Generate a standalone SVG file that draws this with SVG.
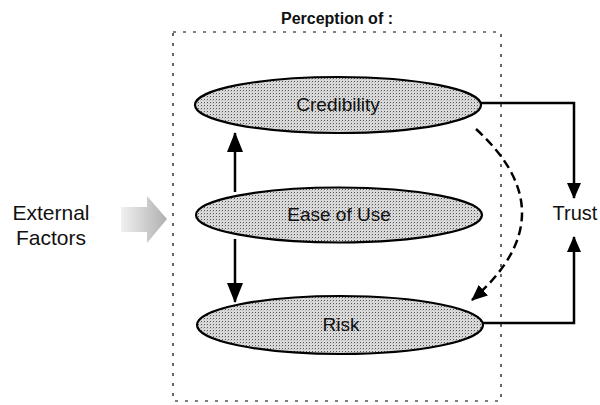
<svg xmlns="http://www.w3.org/2000/svg" width="600" height="405" viewBox="0 0 600 405">
  <style>
    .lbl { font-family: "Liberation Sans", Arial, sans-serif; fill: #111; }
    .node ellipse { fill: url(#stipple); stroke: #000; stroke-width: 2.2; }
    .node text { font-size: 19px; text-anchor: middle; }
    .conn { fill: none; stroke: #000; stroke-width: 2.5; }
  </style>
  <defs>
    <pattern id="stipple" width="3" height="3" patternUnits="userSpaceOnUse">
      <rect width="3" height="3" fill="#dadada"/>
      <rect x="0" y="0" width="1" height="1" fill="#555"/>
      <rect x="2" y="1" width="1" height="1" fill="#bbb"/>
    </pattern>
    <linearGradient id="grayArrow" x1="0" y1="0" x2="1" y2="0">
      <stop offset="0" stop-color="#f0f0f0"/>
      <stop offset="1" stop-color="#b0b0b0"/>
    </linearGradient>
    <marker id="head" markerUnits="userSpaceOnUse" markerWidth="16" markerHeight="16" viewBox="0 0 16 16" refX="15" refY="8" orient="auto">
      <path d="M0,1 L16,8 L0,15 Z" fill="#000"/>
    </marker>
    <marker id="bighead" markerUnits="userSpaceOnUse" markerWidth="20" markerHeight="16" viewBox="0 0 20 16" refX="19" refY="8" orient="auto">
      <path d="M0,0 L20,8 L0,16 Z" fill="#000"/>
    </marker>
  </defs>

  <rect x="0" y="0" width="600" height="405" fill="#fff"/>

  <!-- Perception box -->
  <g id="perception-box">
    <rect x="173" y="32" width="328" height="369" fill="none" stroke="#000" stroke-width="1.2" stroke-dasharray="3 7"/>
    <text class="lbl" x="337" y="24" font-size="16" font-weight="bold" text-anchor="middle">Perception of :</text>
  </g>

  <g id="connectors">
    <line class="conn" x1="235" y1="192" x2="235" y2="133" stroke-width="3" marker-end="url(#bighead)"/>
    <line class="conn" x1="235" y1="239" x2="235" y2="302" stroke-width="3" marker-end="url(#bighead)"/>
    <polyline class="conn" points="480,103 574,103 574,198" marker-end="url(#head)"/>
    <polyline class="conn" points="483,323 574,323 574,237" marker-end="url(#head)"/>
    <path class="conn" d="M476,129 Q570,215 472,300" stroke-width="3" stroke-dasharray="9 5" marker-end="url(#head)"/>
  </g>

  <g id="credibility" class="node">
    <ellipse cx="338" cy="105" rx="143" ry="28"/>
    <text class="lbl" x="338" y="111">Credibility</text>
  </g>

  <g id="ease-of-use" class="node">
    <ellipse cx="339" cy="215" rx="143" ry="27.5"/>
    <text class="lbl" x="339" y="221">Ease of Use</text>
  </g>

  <g id="risk" class="node">
    <ellipse cx="340" cy="325" rx="143" ry="29"/>
    <text class="lbl" x="341" y="331">Risk</text>
  </g>

  <g id="external-factors">
    <text class="lbl" x="51" y="220" font-size="21" text-anchor="middle">External</text>
    <text class="lbl" x="51" y="245" font-size="21" text-anchor="middle">Factors</text>
    <path d="M121,207 L147,207 L147,196 L167,219 L147,243 L147,232 L121,232 Z" fill="url(#grayArrow)"/>
  </g>

  <g id="trust">
    <text class="lbl" x="575" y="220" font-size="20" text-anchor="middle">Trust</text>
  </g>
</svg>
